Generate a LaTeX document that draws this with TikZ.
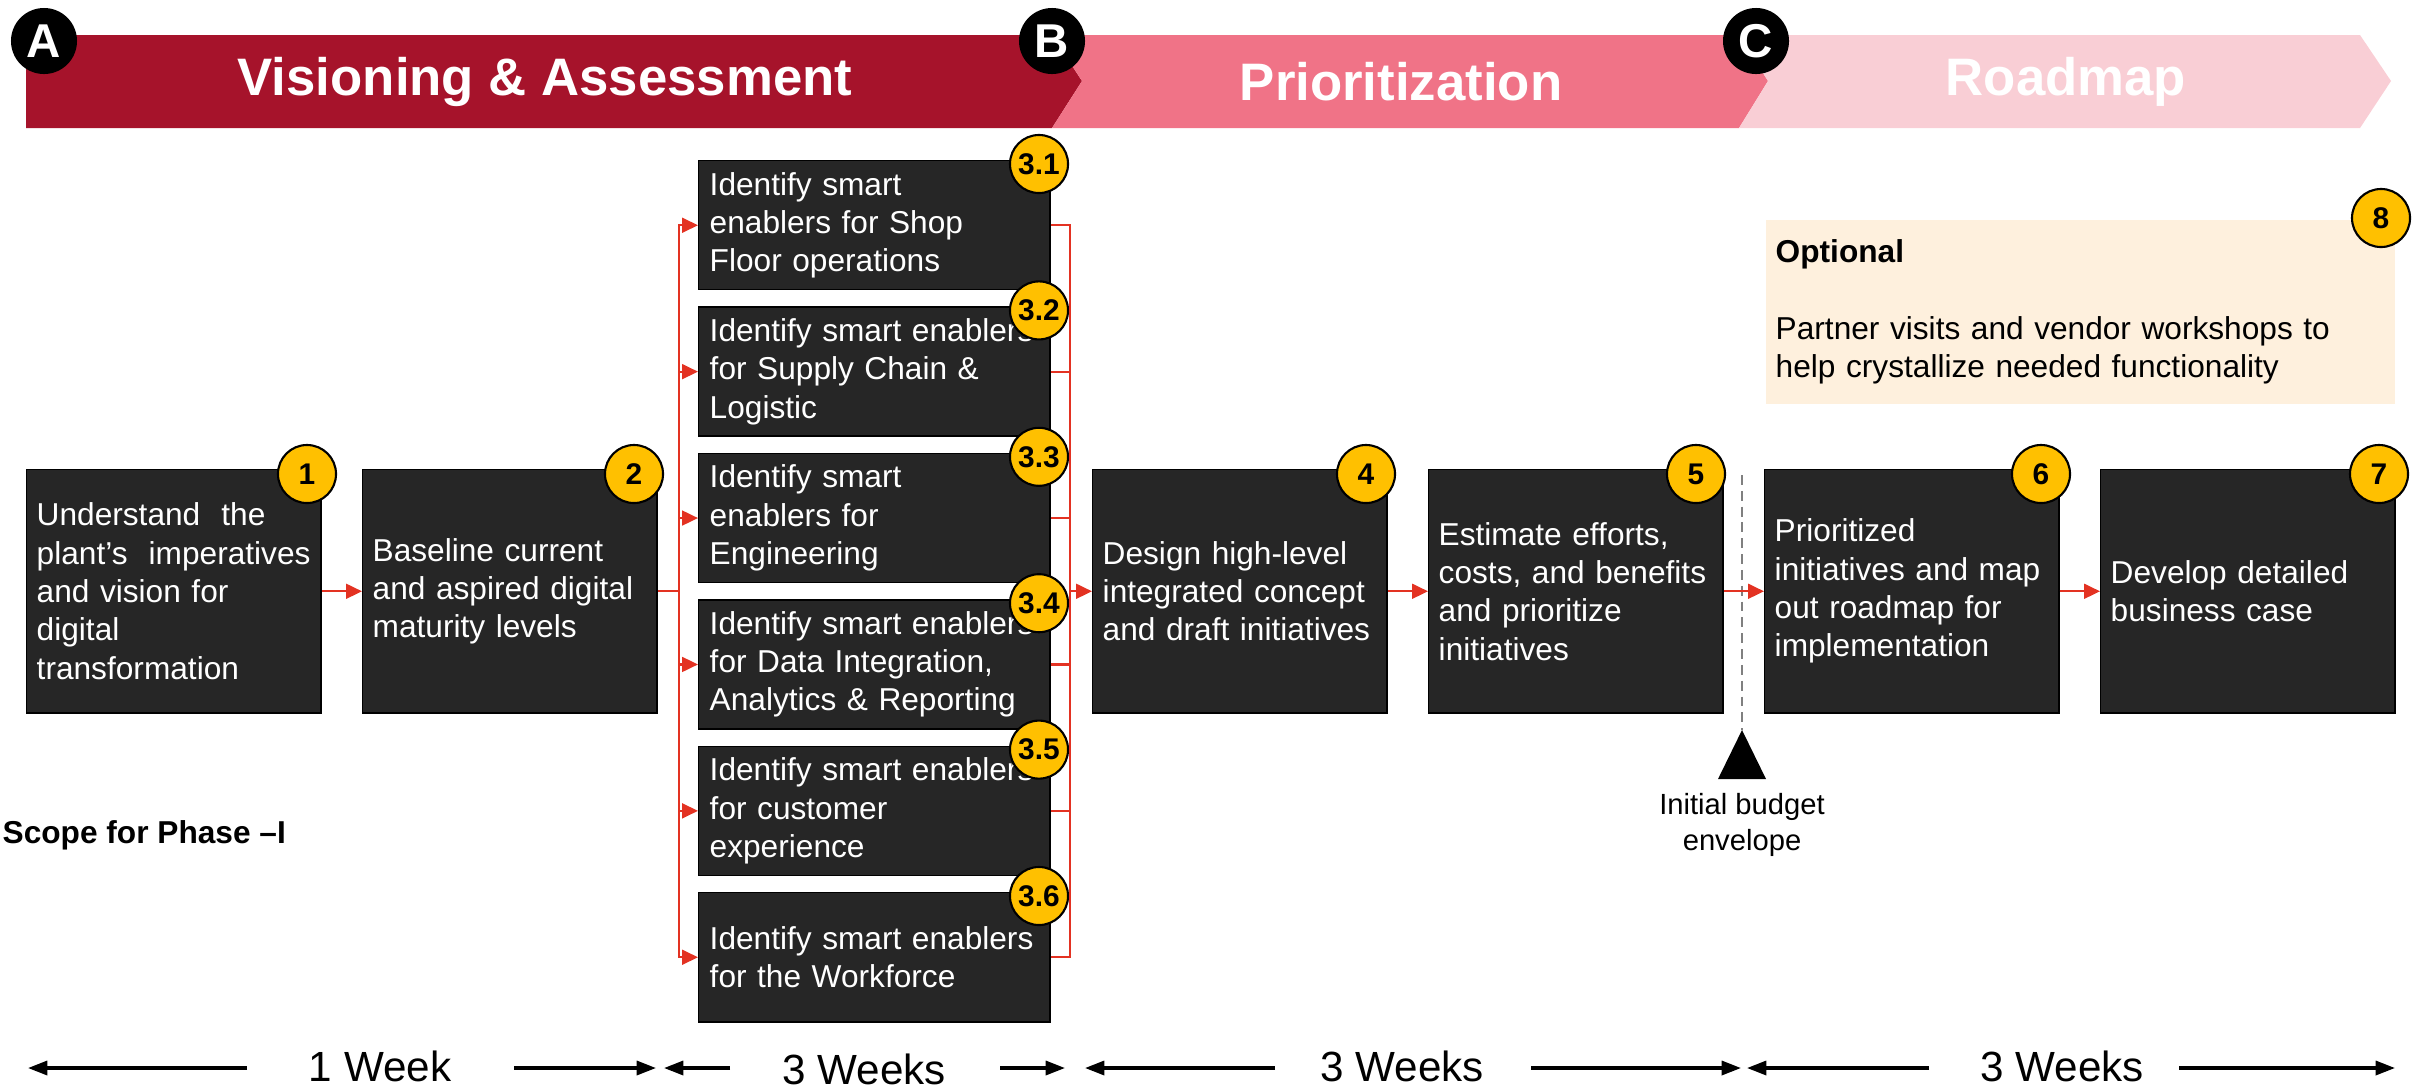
\documentclass[tikz,border=0pt]{standalone}
\usepackage{fontspec}
\setmainfont{Liberation Sans}
\usetikzlibrary{arrows.meta}

\definecolor{bannerA}{HTML}{A6132B}
\definecolor{bannerB}{HTML}{F07387}
\definecolor{bannerC}{HTML}{F9CED5}
\definecolor{boxgray}{HTML}{262626}
\definecolor{flowred}{HTML}{E33222}
\definecolor{badgeyel}{HTML}{FFC000}
\definecolor{peach}{HTML}{FEF0DD}

\tikzset{
  stepbox/.style={draw=black, line width=0.4pt, fill=boxgray, text=white, anchor=north west,
    align=left, inner xsep=0.1cm, inner ysep=0pt, font=\fontsize{9}{10.9}\selectfont},
  badge/.style={circle, draw=black, line width=0.6pt, fill=badgeyel, minimum size=0.58cm,
    inner sep=0pt, font=\bfseries\fontsize{8.5}{10}\selectfont},
  phasedot/.style={circle, fill=black, text=white, minimum size=0.66cm, inner sep=0pt,
    font=\bfseries\fontsize{13.5}{15}\selectfont},
  phasetxt/.style={text=white, inner sep=0pt, font=\bfseries\fontsize{15}{17}\selectfont},
  flow/.style={draw=flowred, line width=0.6pt},
  flowarrow/.style={flow, -{Triangle[length=4.5pt,width=4.2pt]}},
  weekarrow/.style={line width=0.9pt, -{Triangle[length=5.5pt,width=4pt]}}
}

\begin{document}
\begin{tikzpicture}[x=0.01cm, y=-0.01cm]

  \useasboundingbox (0,0) rectangle (2418,1087);

	%phase banner
    \fill[bannerA] (26,35) -- (1052,35) -- (1082,81) -- (1052,128) -- (26,128) -- cycle;
    \fill[bannerB] (1052,35) -- (1739,35) -- (1768,81) -- (1739,128) -- (1052,128) -- (1082,81) -- cycle;
    \fill[bannerC] (1739,35) -- (2360,35) -- (2391,81) -- (2360,128) -- (1739,128) -- (1768,81) -- cycle;

    \foreach \x/\txt/\name in {545/Visioning \& Assessment/ph1, 1401/Prioritization/ph2, 2066/Roadmap/ph3}{
           \node[phasetxt] (\name) at (\x,82) {\txt};
    }
    \foreach \x/\txt/\name in {44/A/pA, 1052/B/pB, 1756/C/pC}{
           \node[phasedot] (\name) at (\x,41) {\txt};
    }

	%main steps
    \foreach \x/\bx/\num/\name/\txt in {
        26/307/1/b1/{Understand\ \ the\\plant’s\ \ imperatives\\and vision for\\digital\\transformation},
        362/634/2/b2/{Baseline current\\and aspired digital\\maturity levels},
        1092/1366/4/b4/{Design high-level\\integrated concept\\and draft initiatives},
        1428/1696/5/b5/{Estimate efforts,\\costs, and benefits\\and prioritize\\initiatives},
        1764/2041/6/b6/{Prioritized\\initiatives and map\\out roadmap for\\implementation},
        2100/2379/7/b7/{Develop detailed\\business case}}{
         \node[stepbox, text width=2.74cm, minimum height=2.43cm] (\name) at (\x,469) {\txt};
         \node[badge] (k\num) at (\bx,474) {\num};
    }

	%smart enablers
    \foreach \i/\txt in {
        1/{Identify smart\\enablers for Shop\\Floor operations},
        2/{Identify smart enablers\\for Supply Chain \&\\Logistic},
        3/{Identify smart\\enablers for\\Engineering},
        4/{Identify smart enablers\\for Data Integration,\\Analytics \& Reporting},
        5/{Identify smart enablers\\for customer\\experience},
        6/{Identify smart enablers\\for the Workforce}}{
         \node[stepbox, inner xsep=0.11cm, text width=3.29cm, minimum height=1.29cm] (s\i) at (698,{160+146.4*(\i-1)}) {\txt};
         \node[badge] (k3\i) at (1039,{164+146.4*(\i-1)}) {3.\i};
    }

	%optional
    \node[anchor=north west, fill=peach, align=left, inner xsep=0.1cm, inner ysep=0pt,
          text width=6.09cm, minimum height=1.84cm, font=\fontsize{9}{10.9}\selectfont] (opt) at (1765,219)
          {\textbf{Optional}\\[10.9pt]Partner visits and vendor workshops to\\help crystallize needed functionality};
    \node[badge] (k8) at (2381,218) {8};

	%budget marker
    \coordinate (cutoff) at (1742,475);
    \coordinate (budget) at (1742,730);
    \draw[gray, line width=0.4pt, dash pattern=on 2.8pt off 1.7pt] (cutoff) -- (budget);
    \fill[black] (budget) -- ++(24,49) -- ++(-48,0) -- cycle;
    \node[align=center, inner sep=0pt, font=\fontsize{8.3}{10.2}\selectfont] (envelope) at (1742,825) {Initial budget\\envelope};

	%flow
    \coordinate (fanL) at ([xshift=0.21cm]b2.east);
    \coordinate (fanR) at ([xshift=-0.22cm]b4.west);
    \draw[flowarrow] (b1.east) -- (b2.west);
    \draw[flow] (b2.east) -- (fanL);
    \foreach \i in {1,...,6}{
         \draw[flowarrow] (fanL) |- (s\i.west);
         \draw[flow] (s\i.east) -| (fanR);
    }
    \draw[flowarrow] (fanR) -- (b4.west);
    \draw[flowarrow] (b4.east) -- (b5.west);
    \draw[flowarrow] (b5.east) -- (b6.west);
    \draw[flowarrow] (b6.east) -- (b7.west);

    \node[anchor=west, inner sep=0pt, font=\bfseries\fontsize{9}{11}\selectfont] (scope) at (2,835) {Scope for Phase –I};

	%durations
    \foreach \a/\b/\c/\e/\tx/\ty/\txt/\name in {
        28/247/514/656/380/1066/1 Week/wk1,
        664/730/1000/1065/864/1069/3 Weeks/wk2,
        1085/1275/1531/1741/1402/1066/3 Weeks/wk3,
        1747/1929/2179/2395/2062/1066/3 Weeks/wk4}{
         \node[inner sep=0pt, font=\fontsize{12}{14}\selectfont] (\name) at (\tx,\ty) {\txt};
         \coordinate (\name-a) at (\a,1068);
         \coordinate (\name-b) at (\b,1068);
         \coordinate (\name-c) at (\c,1068);
         \coordinate (\name-e) at (\e,1068);
         \draw[weekarrow] (\name-b) -- (\name-a);
         \draw[weekarrow] (\name-c) -- (\name-e);
    }

\end{tikzpicture}
\end{document}
